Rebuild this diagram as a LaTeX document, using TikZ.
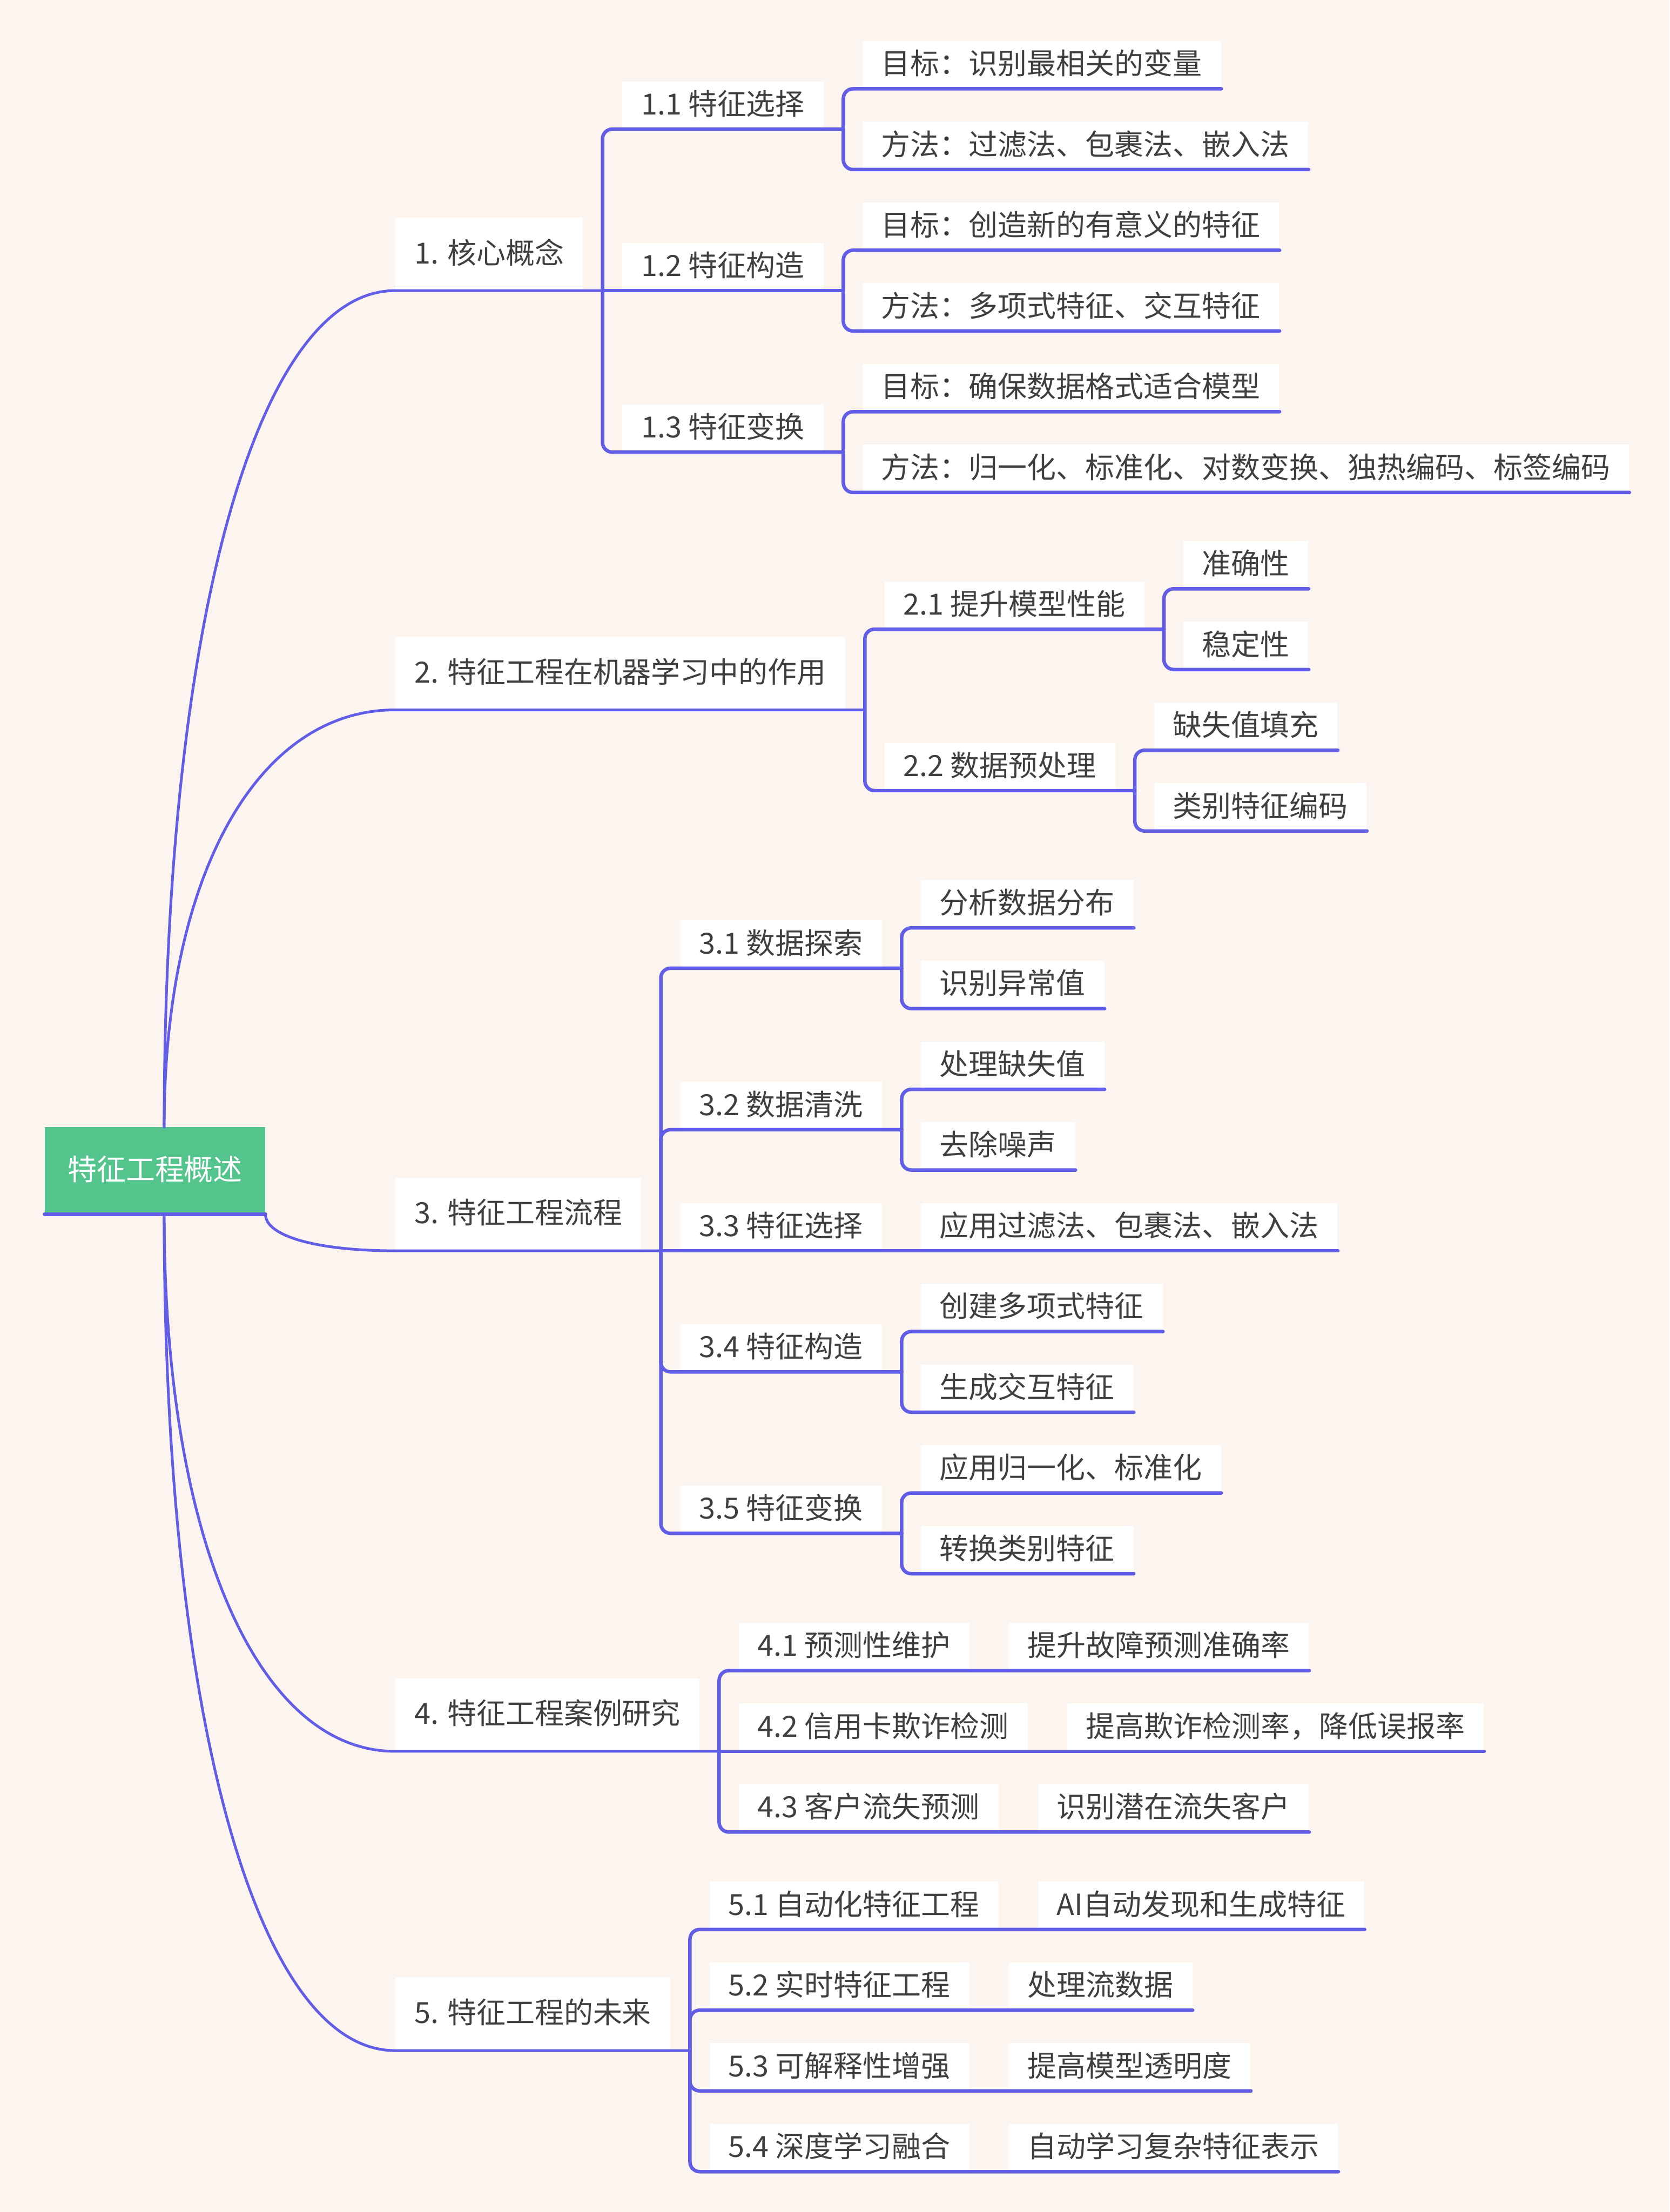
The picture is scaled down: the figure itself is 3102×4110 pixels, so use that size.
\documentclass[tikz,border=0pt]{standalone}
\usepackage{fontspec}
\setmainfont{Noto Sans CJK SC}
\usetikzlibrary{calc,positioning}
\definecolor{bgcol}{HTML}{FCF4EE}
\definecolor{linecol}{HTML}{625DE6}
\definecolor{rootcol}{HTML}{52C48C}
\definecolor{textcol}{HTML}{3F3F3F}
\tikzset{
  topic/.style={fill=white, text=textcol, anchor=south west, inner xsep=0.35cm, inner ysep=0pt,
    text height=1.1em, text depth=0.08em, font=\fontsize{15.4pt}{18pt}\selectfont},
  maintopic/.style={topic, minimum height=1.35cm},
  subtopic/.style={topic, minimum height=0.88cm},
  roottopic/.style={topic, fill=rootcol, text=white, anchor=center, inner xsep=0.42cm, minimum height=1.61cm},
  branch/.style={draw=linecol, line width=0.05cm, line cap=round},
  twig/.style={draw=linecol, line width=0.065cm, line cap=round, rounded corners=0.18cm},
}
\begin{document}
\begin{tikzpicture}[x=0.01cm,y=-0.01cm]
  % background
  \fill[bgcol] (0,0) rectangle (3102,4110);
  \useasboundingbox (0,0) rectangle (3102,4110);
  % root
  \node[roottopic] (root) at (288,2175) {特征工程概述};
  \draw[twig] (root.south west) -- (root.south east);
  \coordinate (rt) at ($(root.north)+(17,0)$);
  \coordinate (rb) at ($(root.south)+(17,0)$);
  % main topics
  \node[maintopic] (m1) at (734,540) {1. 核心概念};
  \node[maintopic] (m2) at (734,1319) {2. 特征工程在机器学习中的作用};
  \node[maintopic] (m3) at (734,2324) {3. 特征工程流程};
  \node[maintopic] (m4) at (734,3254) {4. 特征工程案例研究};
  \node[maintopic] (m5) at (734,3810) {5. 特征工程的未来};
  \coordinate (c1) at ($(m1.south east)+(36,0)$);
  \coordinate (c2) at ($(m2.south east)+(36,0)$);
  \coordinate (c3) at ($(m3.south east)+(36,0)$);
  \coordinate (c4) at ($(m4.south east)+(36,0)$);
  \coordinate (c5) at ($(m5.south east)+(36,0)$);
  % curves from root
  \draw[branch] (rt) .. controls ($(rt)!0.6!(rt |- m1.south)$) and ($(m1.south west)!0.6!(rt |- m1.south)$) .. (m1.south west) -- (c1);
  \draw[branch] (rt) .. controls ($(rt)!0.6!(rt |- m2.south)$) and ($(m2.south west)!0.6!(rt |- m2.south)$) .. (m2.south west) -- (c2);
  \draw[branch] (root.south east) .. controls ($(root.south east)!0.6!(root.south east |- m3.south)$) and ($(m3.south west)!0.6!(root.south east |- m3.south)$) .. (m3.south west) -- (c3);
  \draw[branch] (rb) .. controls ($(rb)!0.6!(rb |- m4.south)$) and ($(m4.south west)!0.6!(rb |- m4.south)$) .. (m4.south west) -- (c4);
  \draw[branch] (rb) .. controls ($(rb)!0.6!(rb |- m5.south)$) and ($(m5.south west)!0.6!(rb |- m5.south)$) .. (m5.south west) -- (c5);

  % 1. core concepts
  \node[subtopic] (s11) at ($(c1)+(36,-300)$) {1.1 特征选择};
  \node[subtopic] (s12) at ($(c1)+(36,0)$) {1.2 特征构造};
  \node[subtopic] (s13) at ($(c1)+(36,300)$) {1.3 特征变换};
  \coordinate (c11) at ($(s11.south east)+(36,0)$);
  \coordinate (c12) at ($(s12.south east)+(36,0)$);
  \coordinate (c13) at ($(s13.south east)+(36,0)$);
  \draw[twig] (c1) |- (c11);
  \draw[twig] (c1) -- (c12);
  \draw[twig] (c1) |- (c13);
  \node[subtopic] (l111) at ($(c11)+(35,-75)$) {目标：识别最相关的变量};
  \node[subtopic] (l112) at ($(c11)+(35,75)$) {方法：过滤法、包裹法、嵌入法};
  \node[subtopic] (l121) at ($(c12)+(35,-75)$) {目标：创造新的有意义的特征};
  \node[subtopic] (l122) at ($(c12)+(35,75)$) {方法：多项式特征、交互特征};
  \node[subtopic] (l131) at ($(c13)+(35,-75)$) {目标：确保数据格式适合模型};
  \node[subtopic] (l132) at ($(c13)+(35,75)$) {方法：归一化、标准化、对数变换、独热编码、标签编码};
  \draw[twig] (c11) |- (l111.south east);
  \draw[twig] (c11) |- (l112.south east);
  \draw[twig] (c12) |- (l121.south east);
  \draw[twig] (c12) |- (l122.south east);
  \draw[twig] (c13) |- (l131.south east);
  \draw[twig] (c13) |- (l132.south east);

  % 2. role in machine learning
  \node[subtopic] (s21) at ($(c2)+(36,-150)$) {2.1 提升模型性能};
  \node[subtopic] (s22) at ($(c2)+(36,150)$) {2.2 数据预处理};
  \coordinate (c21) at ($(s21.south east)+(36,0)$);
  \coordinate (c22) at ($(s22.south east)+(36,0)$);
  \draw[twig] (c2) |- (c21);
  \draw[twig] (c2) |- (c22);
  \node[subtopic] (l211) at ($(c21)+(35,-75)$) {准确性};
  \node[subtopic] (l212) at ($(c21)+(35,75)$) {稳定性};
  \node[subtopic] (l221) at ($(c22)+(35,-75)$) {缺失值填充};
  \node[subtopic] (l222) at ($(c22)+(35,75)$) {类别特征编码};
  \draw[twig] (c21) |- (l211.south east);
  \draw[twig] (c21) |- (l212.south east);
  \draw[twig] (c22) |- (l221.south east);
  \draw[twig] (c22) |- (l222.south east);

  % 3. workflow
  \node[subtopic] (s31) at ($(c3)+(36,-525)$) {3.1 数据探索};
  \node[subtopic] (s32) at ($(c3)+(36,-225)$) {3.2 数据清洗};
  \node[subtopic] (s33) at ($(c3)+(36,0)$) {3.3 特征选择};
  \node[subtopic] (s34) at ($(c3)+(36,225)$) {3.4 特征构造};
  \node[subtopic] (s35) at ($(c3)+(36,525)$) {3.5 特征变换};
  \coordinate (c31) at ($(s31.south east)+(36,0)$);
  \coordinate (c32) at ($(s32.south east)+(36,0)$);
  \coordinate (c34) at ($(s34.south east)+(36,0)$);
  \coordinate (c35) at ($(s35.south east)+(36,0)$);
  \node[subtopic] (l311) at ($(c31)+(35,-75)$) {分析数据分布};
  \node[subtopic] (l312) at ($(c31)+(35,75)$) {识别异常值};
  \node[subtopic] (l321) at ($(c32)+(35,-75)$) {处理缺失值};
  \node[subtopic] (l322) at ($(c32)+(35,75)$) {去除噪声};
  \node[subtopic] (l331) at ($(s33.south east)+(71,0)$) {应用过滤法、包裹法、嵌入法};
  \node[subtopic] (l341) at ($(c34)+(35,-75)$) {创建多项式特征};
  \node[subtopic] (l342) at ($(c34)+(35,75)$) {生成交互特征};
  \node[subtopic] (l351) at ($(c35)+(35,-75)$) {应用归一化、标准化};
  \node[subtopic] (l352) at ($(c35)+(35,75)$) {转换类别特征};
  \draw[twig] (c3) |- (c31);
  \draw[twig] (c3) |- (c32);
  \draw[twig] (c3) -- (l331.south east);
  \draw[twig] (c3) |- (c34);
  \draw[twig] (c3) |- (c35);
  \draw[twig] (c31) |- (l311.south east);
  \draw[twig] (c31) |- (l312.south east);
  \draw[twig] (c32) |- (l321.south east);
  \draw[twig] (c32) |- (l322.south east);
  \draw[twig] (c34) |- (l341.south east);
  \draw[twig] (c34) |- (l342.south east);
  \draw[twig] (c35) |- (l351.south east);
  \draw[twig] (c35) |- (l352.south east);

  % 4. case studies
  \node[subtopic] (s41) at ($(c4)+(36,-150)$) {4.1 预测性维护};
  \node[subtopic] (s42) at ($(c4)+(36,0)$) {4.2 信用卡欺诈检测};
  \node[subtopic] (s43) at ($(c4)+(36,150)$) {4.3 客户流失预测};
  \node[subtopic] (l41) at ($(s41.south east)+(72,0)$) {提升故障预测准确率};
  \node[subtopic] (l42) at ($(s42.south east)+(72,0)$) {提高欺诈检测率，降低误报率};
  \node[subtopic] (l43) at ($(s43.south east)+(72,0)$) {识别潜在流失客户};
  \draw[twig] (c4) |- (l41.south east);
  \draw[twig] (c4) -- (l42.south east);
  \draw[twig] (c4) |- (l43.south east);

  % 5. future
  \node[subtopic] (s51) at ($(c5)+(36,-225)$) {5.1 自动化特征工程};
  \node[subtopic] (s52) at ($(c5)+(36,-75)$) {5.2 实时特征工程};
  \node[subtopic] (s53) at ($(c5)+(36,75)$) {5.3 可解释性增强};
  \node[subtopic] (s54) at ($(c5)+(36,225)$) {5.4 深度学习融合};
  \node[subtopic] (l51) at ($(s51.south east)+(72,0)$) {AI自动发现和生成特征};
  \node[subtopic] (l52) at ($(s52.south east)+(72,0)$) {处理流数据};
  \node[subtopic] (l53) at ($(s53.south east)+(72,0)$) {提高模型透明度};
  \node[subtopic] (l54) at ($(s54.south east)+(72,0)$) {自动学习复杂特征表示};
  \draw[twig] (c5) |- (l51.south east);
  \draw[twig] (c5) |- (l52.south east);
  \draw[twig] (c5) |- (l53.south east);
  \draw[twig] (c5) |- (l54.south east);
\end{tikzpicture}
\end{document}
